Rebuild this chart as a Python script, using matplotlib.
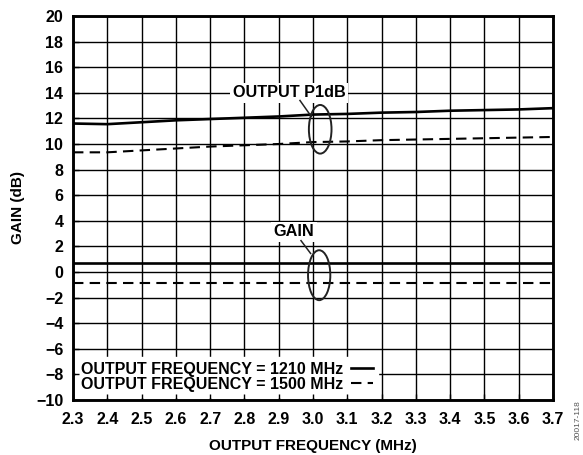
import matplotlib
matplotlib.use("Agg")
import matplotlib.pyplot as plt
from matplotlib.patches import Ellipse

plt.rcParams['font.family'] = ['Liberation Sans', 'DejaVu Sans']
plt.rcParams['font.weight'] = 'bold'

freq = [2.3, 2.4, 2.5, 2.6, 2.7, 2.8, 2.9, 3.0, 3.1, 3.2, 3.3, 3.4, 3.5, 3.6, 3.7]
p1db_1210 = [11.6, 11.55, 11.7, 11.85, 11.95, 12.05, 12.15, 12.3, 12.35, 12.45, 12.5, 12.6, 12.65, 12.7, 12.8]
p1db_1500 = [9.35, 9.35, 9.5, 9.65, 9.8, 9.9, 10.0, 10.15, 10.2, 10.3, 10.35, 10.4, 10.45, 10.5, 10.55]
gain_1210 = [0.7] * 15
gain_1500 = [-0.85] * 15
xticks = [2.3, 2.4, 2.5, 2.6, 2.7, 2.8, 2.9, 3.0, 3.1, 3.2, 3.3, 3.4, 3.5, 3.6, 3.7]
yticks = list(range(-10, 21, 2))
ytick_labels = [str(v).replace('-', '\u2212') for v in yticks]

fig = plt.figure(figsize=(5.83, 4.55), dpi=100)
pos = [73/583, 1-400/455, 480/583, 384/455]
ax = fig.add_axes(pos)

ax.plot(freq, p1db_1210, color='black', lw=1.9, label='OUTPUT FREQUENCY = 1210 MHz', zorder=3)
ax.plot(freq, gain_1210, color='black', lw=1.9, zorder=3)
ax.plot(freq, p1db_1500, color='black', lw=1.5, dashes=(5, 3.0), label='OUTPUT FREQUENCY = 1500 MHz', zorder=3)
ax.plot(freq, gain_1500, color='black', lw=1.5, dashes=(5, 3.0), zorder=3)

ax.set_xlim(2.3, 3.7)
ax.set_ylim(-10, 20)
ax.set_xticks(xticks)
ax.set_xticklabels([f'{v:.1f}' for v in xticks])
ax.set_yticks(yticks)
ax.set_yticklabels(ytick_labels)
ax.grid(True, color='black', lw=1.0)
ax.tick_params(axis='x', direction='in', length=0, labelsize=11.5, pad=9)
ax.tick_params(axis='y', direction='in', length=0, labelsize=11.5, pad=7)
for s in ax.spines.values():
    s.set_linewidth(1.8)
ax.set_xlabel('OUTPUT FREQUENCY (MHz)', fontsize=11, fontweight='bold', labelpad=8)
ax.set_ylabel('GAIN (dB)', fontsize=11, fontweight='bold', labelpad=8)

leg = ax.legend(loc='lower left', bbox_to_anchor=(0.0, 0.0), markerfirst=False,
                frameon=True, fancybox=False, framealpha=1, edgecolor='white',
                facecolor='white', fontsize=11.5, handlelength=1.35, handletextpad=0.5,
                borderpad=0.3, labelspacing=0.0, borderaxespad=0.2)
for t in leg.get_texts():
    t.set_fontweight('bold')
leg.set_zorder(5)

# overlay ticks (visible inside legend area)
ax2 = fig.add_axes(pos, sharex=ax, sharey=ax)
ax2.patch.set_visible(False)
ax2.tick_params(direction='in', length=4, width=1, labelbottom=False, labelleft=False)
for s in ax2.spines.values():
    s.set_linewidth(1.8)
ax2.set_zorder(ax.get_zorder() + 1)

bbox = dict(boxstyle='square,pad=0.15', fc='white', ec='none')
ax.text(2.93, 14.0, 'OUTPUT P1dB', fontsize=11.7, fontweight='bold', ha='center', va='center', bbox=bbox, zorder=6)
ax.text(2.945, 3.15, 'GAIN', fontsize=11.7, fontweight='bold', ha='center', va='center', bbox=bbox, zorder=6)
ax.plot([2.962, 2.995], [13.4, 12.15], color='#222222', lw=1.1, zorder=6)
ax.plot([2.965, 2.993], [2.45, 1.45], color='#222222', lw=1.1, zorder=6)
ax.add_patch(Ellipse((3.021, 11.15), 0.066, 3.8, fill=False, ec='#222222', lw=1.4, zorder=6))
ax.add_patch(Ellipse((3.018, -0.25), 0.065, 3.9, fill=False, ec='#222222', lw=1.4, zorder=6))

fig.text(578/583, 1-420/455, '20017-118', rotation=90, fontsize=6, color='#555555',
         fontweight='normal', ha='center', va='center')

fig.savefig('out.png', dpi=100)
